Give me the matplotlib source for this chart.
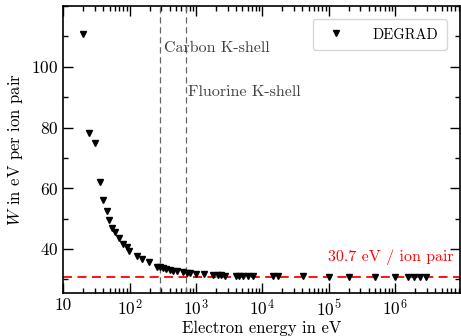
import matplotlib
matplotlib.use("Agg")
import matplotlib.pyplot as plt
from matplotlib.ticker import FuncFormatter, MultipleLocator, LogLocator, FixedLocator
import numpy as np

plt.rcParams['font.family'] = 'serif'
plt.rcParams['font.serif'] = ['cmr10']
plt.rcParams['mathtext.fontset'] = 'cm'
plt.rcParams['axes.unicode_minus'] = False
plt.rcParams['axes.formatter.use_mathtext'] = True

# DEGRAD W-values
energy = [20, 24.7, 30.3, 35.7, 40.5, 45.5, 49.8, 55.2, 60.6, 69.7, 80.9, 91, 99.5,
          129, 156, 197, 260, 289, 321, 356, 409, 453, 521, 642, 737, 818, 1007,
          1328, 1815, 2158, 2397, 2752, 4030, 4474, 5138, 6110, 7270, 14550, 17300,
          41100, 1.01e5, 2.03e5, 5.0e5, 1.0e6, 1.57e6, 1.93e6, 2.38e6, 2.93e6]
w_value = [110.9, 78.2, 74.9, 62.0, 56.2, 52.5, 49.6, 46.8, 45.5, 43.5, 41.5, 40.8, 39.3,
           37.7, 36.7, 35.6, 34.1, 34.0, 33.7, 33.4, 33.1, 32.7, 32.6, 32.4, 32.1, 32.0, 31.8,
           31.6, 31.4, 31.3, 31.3, 31.2, 31.1, 31.1, 31.1, 31.0, 31.0, 31.0, 31.0,
           31.0, 30.9, 30.9, 30.9, 30.9, 30.9, 30.9, 30.9, 30.9]

w_asymptote = 30.7
carbon_k = 290
fluorine_k = 696
x_major = [10, 1e2, 1e3, 1e4, 1e5, 1e6]

fig = plt.figure(figsize=(4.61, 3.36), dpi=100)
ax = fig.add_axes([0.137, 0.128, 0.861, 0.854])

ax.axvline(carbon_k, color='0.4', ls='--', lw=0.9, dashes=(5, 3))
ax.axvline(fluorine_k, color='0.4', ls='--', lw=0.9, dashes=(5, 3))
ax.axhline(w_asymptote, color='red', ls='--', lw=1.3, dashes=(5, 3))
ax.plot(energy, w_value, 'v', color='black', ms=5, label='DEGRAD', zorder=3)

ax.set_xscale('log')
ax.set_xlim(10, 9.5e6)
ax.set_ylim(25.5, 120)

ax.text(carbon_k * 1.12, 0.854, 'Carbon K-shell', transform=ax.get_xaxis_transform(),
        fontsize=11.5, color='0.25', va='center')
ax.text(fluorine_k * 1.08, 0.70, 'Fluorine K-shell', transform=ax.get_xaxis_transform(),
        fontsize=11.5, color='0.25', va='center')
ax.text(0.985, 37.2, '30.7 eV / ion pair', transform=ax.get_yaxis_transform(),
        fontsize=11.5, color='red', ha='right', va='center')

def fmt(v, pos):
    e = int(round(np.log10(v)))
    if e == 1:
        return '10'
    return r'$10^{%d}$' % e

ax.xaxis.set_major_locator(FixedLocator(x_major))
ax.xaxis.set_minor_locator(LogLocator(base=10, subs=np.arange(2, 10), numticks=20))
ax.xaxis.set_major_formatter(FuncFormatter(fmt))
ax.set_yticks([40, 60, 80, 100])
ax.yaxis.set_minor_locator(MultipleLocator(10))

ax.tick_params(which='both', direction='in', top=True, right=True, labelsize=12.5, width=1.0)
ax.tick_params(which='major', length=7)
ax.tick_params(which='minor', length=3.5)
for s in ax.spines.values():
    s.set_linewidth(1.2)

ax.set_xlabel('Electron energy in eV', fontsize=12, labelpad=2)
ax.set_ylabel(r'$W$ in eV per ion pair', fontsize=12, labelpad=4)

leg = ax.legend(loc='upper right', fontsize=10.5, handletextpad=1.5, borderpad=0.6,
                bbox_to_anchor=(0.985, 0.98), fancybox=True)
leg.get_frame().set_edgecolor('0.8')

fig.savefig('out.png', dpi=100)
